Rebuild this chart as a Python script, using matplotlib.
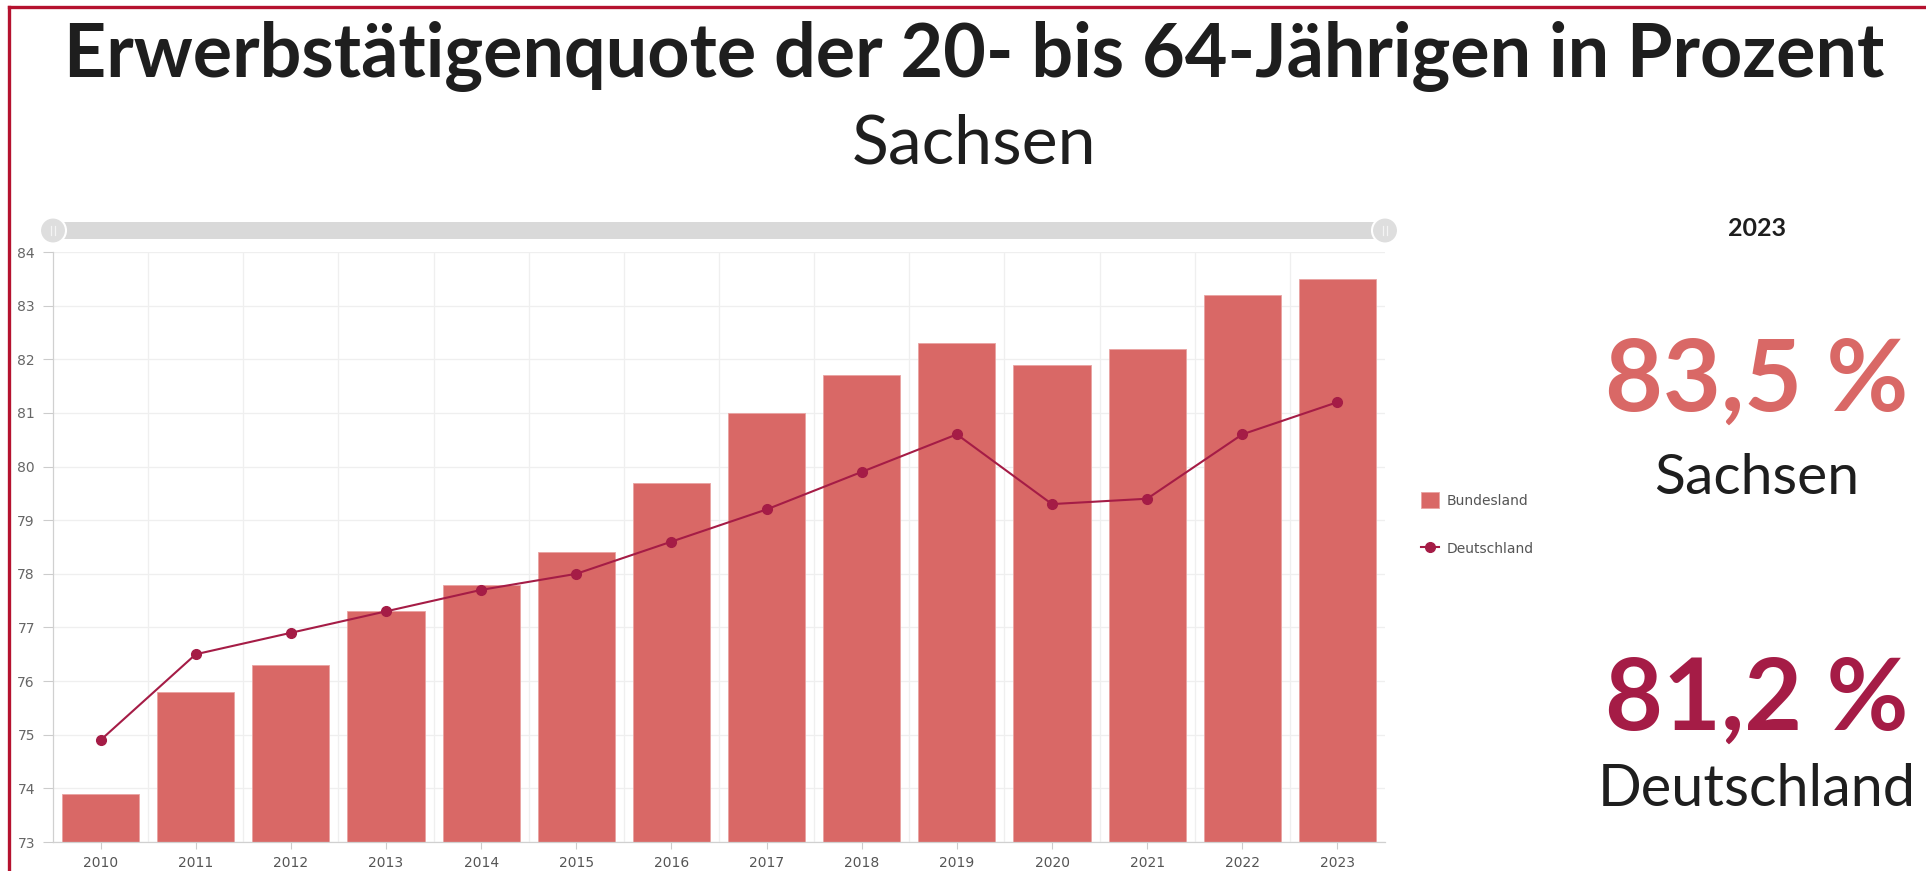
import matplotlib
matplotlib.use("Agg")
import matplotlib.pyplot as plt
from matplotlib.patches import FancyBboxPatch, Circle
from matplotlib.lines import Line2D

# ============================
# Data
# ============================
years = ["2010", "2011", "2012", "2013", "2014", "2015", "2016",
         "2017", "2018", "2019", "2020", "2021", "2022", "2023"]
sachsen = [73.9, 75.8, 76.3, 77.3, 77.8, 78.4, 79.7,
           81.0, 81.7, 82.3, 81.9, 82.2, 83.2, 83.5]
deutschland = [74.9, 76.5, 76.9, 77.3, 77.7, 78.0, 78.6,
               79.2, 79.9, 80.6, 79.3, 79.4, 80.6, 81.2]
y_ticks = list(range(73, 85))

title = "Erwerbstätigenquote der 20- bis 64-Jährigen in Prozent"
subtitle = "Sachsen"
bar_label = "Bundesland"
line_label = "Deutschland"

bar_col = "#D96866"
line_col = "#A51C46"
txt_col = "#1e1e1e"

W, H = 1926, 871
fig = plt.figure(figsize=(W / 100, H / 100), dpi=100)
fig.patch.set_facecolor("white")

def fx(px):
    return px / W

def fy(py):
    # py measured from the top of the picture
    return 1 - py / H

# frame lines (left + top only)
fig.add_artist(Line2D([fx(9), fx(9)], [0, fy(7.5)], color="#B5122F", lw=2.4))
fig.add_artist(Line2D([fx(9), 1], [fy(7.5), fy(7.5)], color="#B5122F", lw=2.4))

# =======================
# Main chart
# =======================
ax_l, ax_r, ax_t, ax_b = 53, 1385, 252, 842
ax = fig.add_axes([fx(ax_l), fy(ax_b), fx(ax_r - ax_l), (ax_b - ax_t) / H])
xs = list(range(len(years)))
bars = ax.bar(xs, sachsen, width=0.81, color=bar_col, edgecolor="#e9a3a2",
              linewidth=0.6, zorder=2, label=bar_label)
ln, = ax.plot(xs, deutschland, color=line_col, lw=1.5, marker="o", ms=7,
              zorder=3, label=line_label)

ax.set_xlim(-0.5, len(years) - 0.5)
ax.set_ylim(73, 84)
ax.set_yticks(y_ticks)
ax.set_yticklabels([str(t) for t in y_ticks])
ax.set_xticks(xs)
ax.set_xticklabels(years)
ax.set_xticks([x + 0.5 for x in xs[:-1]], minor=True)
ax.grid(True, axis="y", color="#efefef", lw=0.9, zorder=0)
ax.grid(True, axis="x", which="minor", color="#efefef", lw=0.9, zorder=0)
ax.tick_params(axis="y", length=7, color="#cccccc", labelsize=10,
               labelcolor="#666666", pad=6)
ax.tick_params(axis="x", which="major", length=5, color="#cccccc",
               labelsize=10, labelcolor="#555555", pad=5)
ax.tick_params(axis="x", which="minor", length=0)
for s in ("top", "right"):
    ax.spines[s].set_visible(False)
for s in ("left", "bottom"):
    ax.spines[s].set_color("#d0d0d0")
    ax.spines[s].set_linewidth(0.9)

leg = fig.legend([bars, ln], [bar_label, line_label], loc="upper left",
                 bbox_to_anchor=(fx(1408), fy(480)),
                 frameon=False, fontsize=10, labelspacing=2.4,
                 handlelength=1.3, handleheight=1.3, handletextpad=0.6)
for t in leg.get_texts():
    t.set_color("#555555")

# =======================
# Range slider above the chart
# =======================
sl = fig.add_axes([fx(30), fy(250), fx(1380), 38 / H])
sl.set_xlim(30, 1410)
sl.set_ylim(0, 38)
sl.axis("off")
sl.add_patch(FancyBboxPatch((53, 11), 1332, 17,
                            boxstyle="round,pad=0,rounding_size=3",
                            fc="#d9d9d9", ec="none"))
for cx in (53, 1385):
    sl.add_patch(Circle((cx, 19.5), 13, fc="#dedede", ec="white", lw=1.5))
    sl.plot([cx - 2, cx - 2], [15, 24], color="#f4f4f4", lw=0.9)
    sl.plot([cx + 2, cx + 2], [15, 24], color="#f4f4f4", lw=0.9)

# =======================
# Titles
# =======================
fig.text(fx(974), fy(57), title, ha="center", va="center",
         fontsize=53, fontweight="bold", family="Lato", color=txt_col)
fig.text(fx(974), fy(144), subtitle, ha="center", va="center",
         fontsize=49, family="Lato", color=txt_col)

# =======================
# Right panel: latest year
# =======================
cx_r = fx(1757)
fig.text(cx_r, fy(229), years[-1], ha="center", va="center",
         fontsize=18, fontweight="bold", family="Lato", color=txt_col)
fig.text(cx_r, fy(382), "{:.1f} %".format(sachsen[-1]).replace(".", ","),
         ha="center", va="center", fontsize=72, fontweight="bold",
         family="Lato", color=bar_col)
fig.text(cx_r, fy(478), subtitle, ha="center", va="center",
         fontsize=41, family="Lato", color=txt_col)
fig.text(cx_r, fy(701), "{:.1f} %".format(deutschland[-1]).replace(".", ","),
         ha="center", va="center", fontsize=72, fontweight="bold",
         family="Lato", color=line_col)
fig.text(cx_r, fy(789), line_label, ha="center", va="center",
         fontsize=41.5, family="Lato", color=txt_col)

fig.savefig("out.png", dpi=100, facecolor="white")
